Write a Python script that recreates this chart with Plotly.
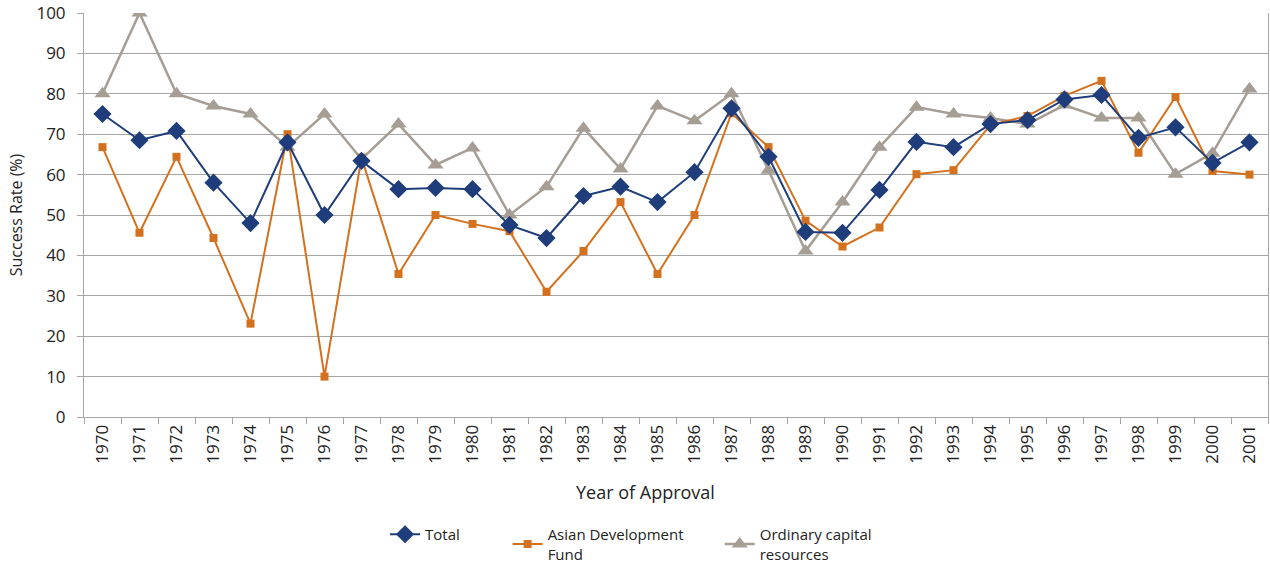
import plotly.graph_objects as go

years = [str(y) for y in range(1970, 2002)]

total = [75, 68.5, 70.8, 58, 48, 68, 50, 63.4, 56.4, 56.7, 56.4,
         47.5, 44.3, 54.7, 57, 53.2, 60.6, 76.4, 64.4, 45.8, 45.6,
         56.2, 68.1, 66.8, 72.5, 73.5, 78.6, 79.7, 69.1, 71.7, 62.9, 68]

adf = [66.8, 45.6, 64.4, 44.3, 23.1, 70, 10, 64.2, 35.4, 50, 47.8,
       46, 31, 41.1, 53.2, 35.4, 50, 75.2, 66.8, 48.6, 42.2,
       46.9, 60.1, 61.1, 72.3, 74.5, 79.5, 83.2, 65.4, 79.2, 60.9, 60]

ocr = [80, 100, 80, 77, 75, 66.8, 75, 63.8, 72.5, 62.4, 66.6,
       50, 57, 71.5, 61.4, 77, 73.3, 80, 61.1, 41.1, 53.2,
       66.8, 76.7, 75, 74, 72.5, 77.2, 74, 74, 60.1, 65.3, 81.2]

NB = "\u00a0"
FONT = "Open Sans"
TXT = "#222222"
fig = go.Figure()

fig.add_trace(go.Scatter(
    x=years, y=ocr, name="Ordinary capital<br>resources", mode="lines+markers",
    line=dict(color="#a69d94", width=2.5),
    marker=dict(symbol="triangle-up", size=14, color="#a69d94"),
    legendrank=3,
))
fig.add_trace(go.Scatter(
    x=years, y=adf, name="Asian Development" + NB * 8 + "<br>Fund", mode="lines+markers",
    line=dict(color="#d4711f", width=2),
    marker=dict(symbol="square", size=8, color="#d4711f"),
    legendrank=2,
))
fig.add_trace(go.Scatter(
    x=years, y=total, name="Total" + NB * 11, mode="lines+markers",
    line=dict(color="#1f3d7a", width=2),
    marker=dict(symbol="diamond", size=14, color="#1f3d7a"),
    legendrank=1,
))

fig.update_layout(
    width=1270, height=566,
    margin=dict(l=84, r=2, t=13, b=149, autoexpand=False),
    paper_bgcolor="white", plot_bgcolor="white",
    font=dict(family=FONT, size=14, color=TXT),
    showlegend=True,
    legend=dict(orientation="h", x=0.462, xanchor="center", y=-0.25, yanchor="top",
                font=dict(family=FONT, size=15, color=TXT), itemwidth=30),
    annotations=[dict(text="Year of Approval", x=0.474, xref="paper", y=-0.185, yref="paper",
                      xanchor="center", yanchor="middle", showarrow=False,
                      font=dict(family=FONT, size=18, color=TXT))],
)

fig.update_xaxes(
    type="category", range=[-0.5, 31.5], tickangle=-90, showgrid=False,
    showline=True, linecolor="#a6a6a6", linewidth=1, automargin=False,
    ticks="outside", ticklen=6, tickcolor="#a6a6a6", tickson="boundaries",
    tickfont=dict(family=FONT, size=17, color=TXT),
)
fig.update_yaxes(
    range=[0, 100], dtick=10, showgrid=True, gridcolor="#a6a6a6", gridwidth=1,
    showline=True, linecolor="#a6a6a6", linewidth=1, mirror=True, automargin=False,
    ticks="outside", ticklen=6, tickcolor="#a6a6a6", ticklabelstandoff=8,
    zeroline=False,
    tickfont=dict(family=FONT, size=17, color=TXT),
    title=dict(text="Success Rate (%)", font=dict(family=FONT, size=16, color=TXT), standoff=9),
)

fig.write_html("out.html", config={"displayModeBar": False},
               post_script="document.body.style.margin='0';")
